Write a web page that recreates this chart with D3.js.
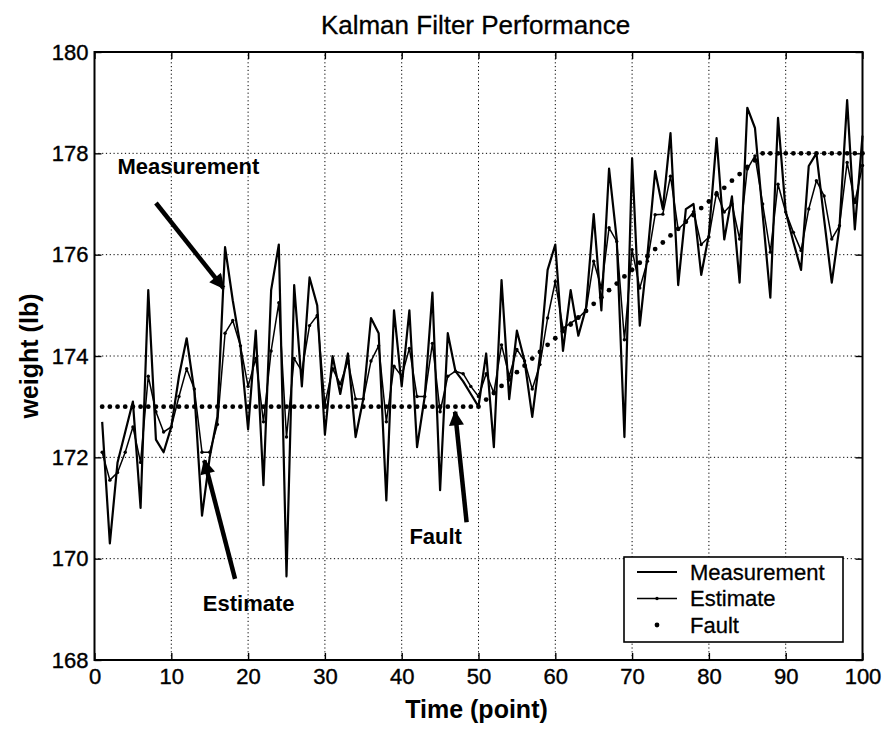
<!DOCTYPE html>
<html>
<head>
<meta charset="utf-8">
<script src="https://cdn.jsdelivr.net/npm/d3@7"></script>
<style>
  body { margin: 0; background: #fff; }
  text { font-family: "Liberation Sans", Arial, Helvetica, sans-serif; fill: #000; }
</style>
</head>
<body>
<div id="chart"></div>
<script>
// ------ Data ---------------------------- //
const time = d3.range(1, 101);

const measurement = [
  172.7, 170.3, 171.9, 172.5, 173.1, 171.0, 175.3, 172.35, 172.1, 172.6,
  173.6, 174.35, 173.3, 170.85, 172.0, 172.8, 176.15, 175.1, 174.2, 172.55,
  174.5, 171.45, 175.3, 176.2, 169.65, 175.4, 173.4, 175.55, 175.0, 172.45,
  174.0, 173.25, 174.05, 172.4, 173.15, 174.75, 174.45, 171.15, 174.9, 173.4,
  174.9, 172.2, 173.2, 175.25, 171.35, 174.45, 173.7, 173.5, 173.25, 173.0,
  174.05, 172.2, 175.5, 173.15, 174.5, 173.9, 172.8, 174.0, 175.7, 176.2,
  174.1, 175.3, 174.4, 174.95, 176.8, 174.9, 177.7, 176.3, 172.4, 177.9,
  174.6, 176.0, 177.65, 176.9, 178.4, 175.4, 176.9, 177.0, 175.6, 176.4,
  178.3, 176.3, 177.15, 175.45, 178.9, 178.5, 176.8, 175.15, 178.7, 176.85,
  176.25, 175.7, 177.75, 178.0, 176.7, 175.45, 176.55, 179.05, 176.5, 178.35
];

const estimate = [
  172.1, 171.55, 171.7, 172.1, 172.6, 171.9, 173.6, 172.9, 172.5, 172.6,
  173.2, 173.75, 173.35, 172.1, 172.1, 172.65, 174.45, 174.7, 174.2, 173.4,
  173.95, 172.7, 174.1, 175.05, 172.4, 173.95, 173.7, 174.6, 174.8, 173.05,
  173.75, 173.45, 173.9, 173.15, 173.15, 173.9, 174.2, 172.7, 173.8, 173.6,
  174.15, 173.2, 173.2, 174.25, 172.9, 173.6, 173.7, 173.65, 173.4, 173.2,
  173.65, 173.27, 174.22, 173.6, 174.13, 173.9, 173.35, 173.83, 174.75, 175.47,
  174.55, 174.65, 174.75, 174.9, 175.87, 175.34, 176.53, 176.26, 174.32, 176.1,
  175.34, 175.87, 176.79, 176.8, 177.55, 176.5, 176.65, 176.85, 176.2, 176.35,
  177.23, 176.84, 177.0, 176.31, 177.69, 177.95, 177.0, 176.05, 177.39, 176.84,
  176.44, 176.08, 176.9, 177.46, 177.16, 176.31, 176.57, 177.82, 177.03, 177.76
];

const fault = [
  173, 173, 173, 173, 173, 173, 173, 173, 173, 173,
  173, 173, 173, 173, 173, 173, 173, 173, 173, 173,
  173, 173, 173, 173, 173, 173, 173, 173, 173, 173,
  173, 173, 173, 173, 173, 173, 173, 173, 173, 173,
  173, 173, 173, 173, 173, 173, 173, 173, 173, 173,
  173.14, 173.27, 173.41, 173.54, 173.68, 173.81, 173.95, 174.08, 174.22, 174.35,
  174.49, 174.62, 174.76, 174.89, 175.03, 175.16, 175.30, 175.43, 175.57, 175.70,
  175.84, 175.97, 176.11, 176.24, 176.38, 176.51, 176.65, 176.78, 176.92, 177.05,
  177.19, 177.32, 177.46, 177.59, 177.73, 177.86, 178, 178, 178, 178,
  178, 178, 178, 178, 178, 178, 178, 178, 178, 178
];

const xTicks = [0, 10, 20, 30, 40, 50, 60, 70, 80, 90, 100];
const yTicks = [168, 170, 172, 174, 176, 178, 180];

const legendLabels = ["Measurement", "Estimate", "Fault"];

// annotations in data units: label position, arrow tail, arrow tip
const notes = [
  { label: "Measurement", lx: 3.0, ly: 177.6, from: [8.0, 177.02], to: [16.8, 175.34] },
  { label: "Estimate", lx: 14.1, ly: 168.96, from: [18.3, 169.6], to: [14.3, 171.94] },
  { label: "Fault", lx: 41.0, ly: 170.28, from: [48.45, 170.72], to: [46.95, 172.9] }
];

// ------ Drawing ------- //
const width = 885;
const height = 732;
const margin = { top: 52, right: 22.5, bottom: 72, left: 94.5 };

const svg = d3.select("#chart")
  .append("svg")
    .attr("width", width)
    .attr("height", height)
    .attr("viewBox", [0, 0, width, height]);

const x = d3.scaleLinear()
  .domain([0, 100])
  .range([margin.left, width - margin.right]);
const y = d3.scaleLinear()
  .domain([168, 180])
  .range([height - margin.bottom, margin.top]);

// grid
const grid = svg.append("g")
  .attr("stroke", "#000")
  .attr("stroke-width", 1)
  .attr("stroke-dasharray", "1.2,2.6");
grid.selectAll(".gx")
  .data(xTicks.slice(1, -1))
  .join("line")
    .attr("x1", d => x(d)).attr("x2", d => x(d))
    .attr("y1", y(168)).attr("y2", y(180));
grid.selectAll(".gy")
  .data(yTicks.slice(1, -1))
  .join("line")
    .attr("x1", x(0)).attr("x2", x(100))
    .attr("y1", d => y(d)).attr("y2", d => y(d));

// axes with inward ticks on all four sides
const tickFont = g => g.selectAll("text")
  .attr("font-size", 22)
  .attr("fill", "#000")
  .attr("stroke", "#000")
  .attr("stroke-width", 0.4);

svg.append("g")
  .attr("transform", `translate(0,${y(168)})`)
  .call(d3.axisBottom(x).tickValues(xTicks).tickSizeInner(-7).tickSizeOuter(0).tickPadding(8))
  .call(g => g.select(".domain").remove())
  .call(tickFont);
svg.append("g")
  .attr("transform", `translate(${x(0)},0)`)
  .call(d3.axisLeft(y).tickValues(yTicks).tickSizeInner(-7).tickSizeOuter(0).tickPadding(6))
  .call(g => g.select(".domain").remove())
  .call(tickFont);
svg.append("g")
  .attr("transform", `translate(0,${y(180)})`)
  .call(d3.axisTop(x).tickValues(xTicks).tickSizeInner(-7).tickSizeOuter(0).tickFormat(""))
  .call(g => g.select(".domain").remove());
svg.append("g")
  .attr("transform", `translate(${x(100)},0)`)
  .call(d3.axisRight(y).tickValues(yTicks).tickSizeInner(-7).tickSizeOuter(0).tickFormat(""))
  .call(g => g.select(".domain").remove());

svg.selectAll(".tick line").attr("stroke", "#000").attr("stroke-width", 1.4);

// box
svg.append("rect")
  .attr("x", x(0)).attr("y", y(180))
  .attr("width", x(100) - x(0)).attr("height", y(168) - y(180))
  .attr("fill", "none")
  .attr("stroke", "#000")
  .attr("stroke-width", 2);

// series
const line = d3.line()
  .x((d, i) => x(time[i]))
  .y(d => y(d));

svg.append("g")
  .selectAll("circle")
  .data(fault)
  .join("circle")
    .attr("cx", (d, i) => x(time[i]))
    .attr("cy", d => y(d))
    .attr("r", 2.4)
    .attr("fill", "#000");

svg.append("path")
  .attr("d", line(estimate))
  .attr("fill", "none")
  .attr("stroke", "#000")
  .attr("stroke-width", 1.5)
  .attr("stroke-linejoin", "round");

svg.append("g")
  .selectAll("circle")
  .data(estimate)
  .join("circle")
    .attr("cx", (d, i) => x(time[i]))
    .attr("cy", d => y(d))
    .attr("r", 1.7)
    .attr("fill", "#000");

svg.append("path")
  .attr("d", line(measurement))
  .attr("fill", "none")
  .attr("stroke", "#000")
  .attr("stroke-width", 2.2)
  .attr("stroke-linejoin", "round");

// annotations
svg.append("defs")
  .append("marker")
    .attr("id", "head")
    .attr("markerUnits", "userSpaceOnUse")
    .attr("viewBox", "0 0 10 10")
    .attr("refX", 9).attr("refY", 5)
    .attr("markerWidth", 22).attr("markerHeight", 15)
    .attr("orient", "auto")
  .append("path")
    .attr("d", "M0,0 L10,5 L0,10 Z")
    .attr("fill", "#000");

const ann = svg.append("g");
ann.selectAll("line")
  .data(notes)
  .join("line")
    .attr("x1", d => x(d.from[0])).attr("y1", d => y(d.from[1]))
    .attr("x2", d => x(d.to[0])).attr("y2", d => y(d.to[1]))
    .attr("stroke", "#000")
    .attr("stroke-width", 4.5)
    .attr("marker-end", "url(#head)");
ann.selectAll("text")
  .data(notes)
  .join("text")
    .attr("x", d => x(d.lx))
    .attr("y", d => y(d.ly))
    .attr("font-size", 22)
    .attr("font-weight", "bold")
    .text(d => d.label);

// legend
const lgX = 624, lgY = 557, lgW = 219, lgH = 85;
const legend = svg.append("g");
legend.append("rect")
  .attr("x", lgX).attr("y", lgY)
  .attr("width", lgW).attr("height", lgH)
  .attr("fill", "#fff")
  .attr("stroke", "#000")
  .attr("stroke-width", 1.6);

const rows = legend.selectAll(".row")
  .data(legendLabels)
  .join("g")
    .attr("transform", (d, i) => `translate(${lgX},${lgY + 15 + i * 26.5})`);
rows.filter((d, i) => i < 2)
  .append("line")
    .attr("x1", 13).attr("x2", 53)
    .attr("stroke", "#000")
    .attr("stroke-width", (d, i) => i === 0 ? 2.2 : 1.5);
rows.filter((d, i) => i > 0)
  .append("circle")
    .attr("cx", 33)
    .attr("r", (d, i) => i === 0 ? 1.7 : 2.4)
    .attr("fill", "#000");
rows.append("text")
  .attr("x", 66)
  .attr("dy", "0.36em")
  .attr("font-size", 22)
  .attr("stroke", "#000")
  .attr("stroke-width", 0.3)
  .text(d => d);

// titles
svg.append("text")
  .attr("x", (x(0) + x(100)) / 2 - 3)
  .attr("y", 34)
  .attr("text-anchor", "middle")
  .attr("font-size", 26)
  .attr("stroke", "#000")
  .attr("stroke-width", 0.3)
  .text("Kalman Filter Performance");
svg.append("text")
  .attr("x", (x(0) + x(100)) / 2 - 2)
  .attr("y", 718)
  .attr("text-anchor", "middle")
  .attr("font-size", 25)
  .attr("font-weight", "bold")
  .text("Time (point)");
svg.append("text")
  .attr("transform", `translate(38,${(y(168) + y(180)) / 2}) rotate(-90)`)
  .attr("text-anchor", "middle")
  .attr("font-size", 25)
  .attr("font-weight", "bold")
  .text("weight (lb)");
</script>
</body>
</html>
